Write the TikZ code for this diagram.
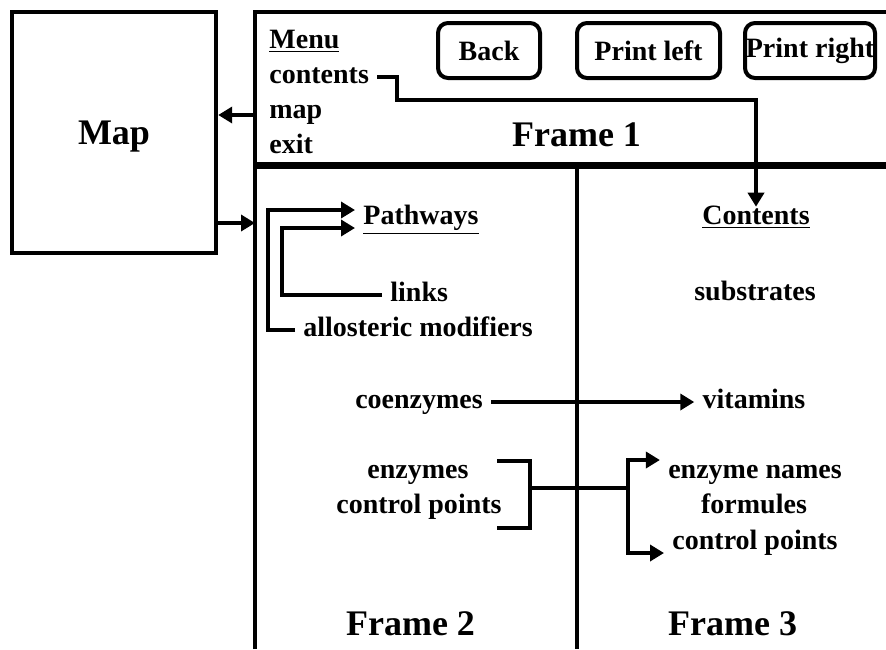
\documentclass[tikz,border=0pt]{standalone}
\usepackage{fontspec}
\setmainfont{Liberation Serif}
\usetikzlibrary{arrows.meta}

\begin{document}
\begin{tikzpicture}[x=0.5pt, y=-0.5pt]
                \tikzstyle{wire} = [line width=2.2pt]
                \tikzstyle{feed} = [wire, -{Triangle[length=7pt, width=8pt]}]
                \tikzstyle{fork} = [wire, {Triangle[length=7pt, width=8pt]}-{Triangle[length=7pt, width=8pt]}]
                \tikzstyle{item} = [font=\bfseries\fontsize{14}{16}\selectfont, inner xsep=4pt, inner ysep=0pt, text height=8.7pt, text depth=2.2pt]
                \tikzstyle{title} = [font=\bfseries\fontsize{18}{20}\selectfont]
                \tikzstyle{button} = [draw, line width=2pt, rounded corners=5pt, minimum height=27.5pt, inner sep=0pt, font=\bfseries\fontsize{14}{16}\selectfont]
                \useasboundingbox (0,0) rectangle (886,649);
                \node[draw, wire, minimum width=102pt, minimum height=120.5pt, title, text depth=0pt] (map) at (114,132.5) {Map};
                \draw[wire] (255,649) -- (255,12) -- (886,12);
                \draw[line width=3.5pt] (255,165) -- (886,165);
                \draw[wire] (577,165) -- (577,649);
                \coordinate (frameout) at (255,115);
                \coordinate (framein) at (255,223);
                \draw[feed] (frameout) -- (frameout -| map.east);
                \draw[feed] (framein -| map.east) -- (framein);
                \node[item, anchor=west] (menu) at (261,42) {\underline{Menu}};
                \node[item, anchor=west] (contents) at (261,77) {contents};
                \node[item, anchor=west] (mapitem) at (261,112) {map};
                \node[item, anchor=west] (exit) at (261,147) {exit};
                \node[button, minimum width=51pt] (back) at (489,50.5) {Back};
                \node[button, minimum width=71.5pt] (printleft) at (648.5,50.5) {Print left};
                \node[button, minimum width=65pt] (printright) at (810,50.5) {Print right};
                \node[title] (frame1) at (576.5,134.5) {Frame 1};
                \node[item] (conthead) at (756,218) {\underline{Contents}};
                \node[item] (substrates) at (755,294) {substrates};
                \coordinate (bend) at (397,100);
                \draw[feed] (contents.east) -| (bend) -| (conthead.north);
                \node[item, anchor=west] (pathways) at (355,218) {\underline{Pathways}};
                \node[item, anchor=west] (links) at (382,295) {links};
                \node[item, anchor=west] (allosteric) at (295,330) {allosteric modifiers};
                \coordinate (outer) at (268,210);
                \coordinate (inner) at (282,228);
                \draw[feed] (allosteric.west) -| (outer) -- (outer -| pathways.west);
                \draw[feed] (links.west) -| (inner) -- (inner -| pathways.west);
                \node[item] (coenzymes) at (419,402) {coenzymes};
                \node[item] (vitamins) at (754,402) {vitamins};
                \draw[feed] (coenzymes) -- (vitamins);
                \node[item] (enzymes) at (418,472) {enzymes};
                \node[item] (ctrlleft) at (419,507) {control points};
                \node[item] (enzymenames) at (755,472) {enzyme names};
                \node[item] (formules) at (754,507) {formules};
                \node[item] (ctrlright) at (755,543) {control points};
                \draw[wire] (497,461) -| (530,528) -- (497,528);
                \coordinate (bracket) at (530,488);
                \coordinate (split) at (628,488);
                \coordinate (splittop) at (628,460);
                \coordinate (splitbot) at (628,553);
                \draw[wire] (bracket) -- (split);
                \draw[fork] (splittop -| enzymenames.west) -- (splittop) -- (splitbot) -- (splitbot -| ctrlright.west);
                \node[title] (frame2) at (410.5,624) {Frame 2};
                \node[title] (frame3) at (732.5,624) {Frame 3};
            \end{tikzpicture}
\end{document}
